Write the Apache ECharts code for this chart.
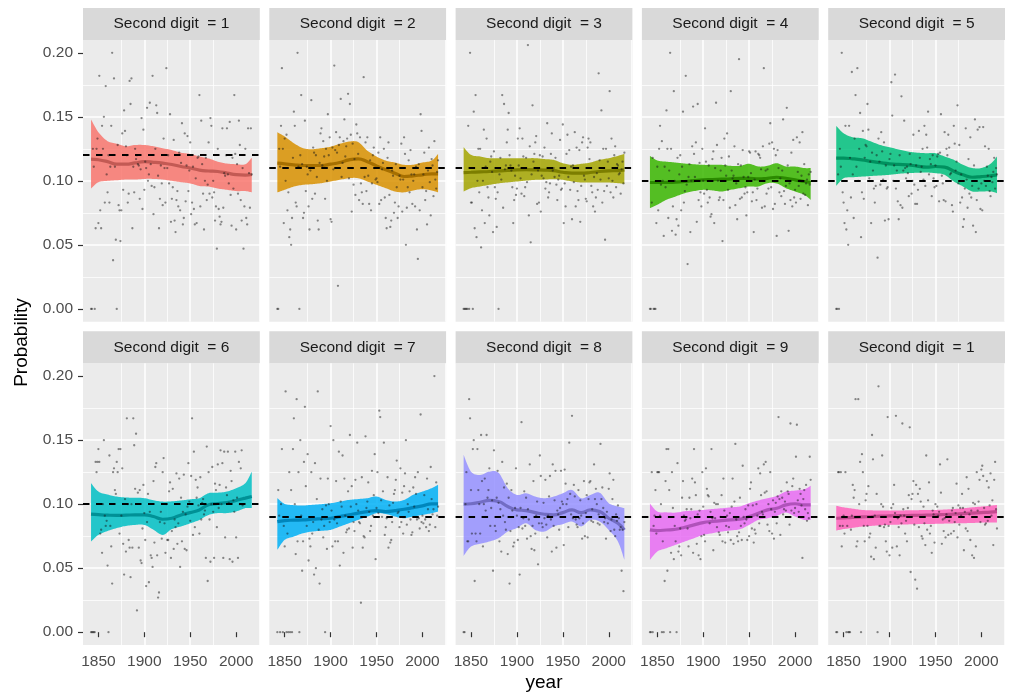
<!DOCTYPE html>
<html>
<head>
<meta charset="utf-8">
<script src="https://cdn.jsdelivr.net/npm/echarts@6/dist/echarts.min.js"></script>
<style>
html,body{margin:0;padding:0;background:#fff;}
#chart{width:1011px;height:696px;}
</style>
</head>
<body>
<div id="chart"></div>
<script>
// ---------------- DATA ----------------
const firstYear = 1842;                       // scatter: one value per year, 1842..2017
const stripLabels = ['Second digit  = 1','Second digit  = 2','Second digit  = 3','Second digit  = 4','Second digit  = 5',
                     'Second digit  = 6','Second digit  = 7','Second digit  = 8','Second digit  = 9','Second digit  = 1'];
const benford = [0.1197,0.1139,0.1088,0.1043,0.1003,0.0967,0.0934,0.0904,0.0876,0.0850];
const xTicks = [1850,1900,1950,2000];
const yTicks = [0,0.05,0.10,0.15,0.20];
const smoothYears = [1842,1850,1860,1870,1880,1890,1900,1910,1920,1930,1940,1950,1960,1970,1980,1990,2000,2010,2017];

const p1 = [0,0,0.125,0.111,0,0.063,0.125,0.133,0.067,0.182,
0.077,0.063,0.143,0.125,0.150,0.083,0.174,0.105,0.091,0.120,
0.083,0.111,0.143,0.200,0.038,0.180,0.111,0.054,0,0.128,
0.081,0.077,0.053,0.077,0.137,0.093,0.155,0.139,0.127,0.120,
0.083,0.090,0.178,0.160,0.180,0.063,0.111,0.091,0.125,0.117,
0.120,0.113,0.112,0.086,0.109,0.149,0.078,0.140,0.093,0.115,
0.110,0.157,0.100,0.105,0.161,0.113,0.096,0.182,0.074,0.095,
0.125,0.159,0.153,0.104,0.063,0.086,0.112,0.098,0.081,0.133,
0.110,0.083,0.188,0.110,0.120,0.098,0.152,0.068,0.086,0.095,
0.132,0.069,0.060,0.085,0.092,0.080,0.122,0.077,0.114,0.145,
0.066,0.071,0.137,0.084,0.112,0.135,0.092,0.108,0.130,0.074,
0.083,0.111,0.078,0.066,0.102,0.067,0.118,0.119,0.167,0.080,
0.147,0.113,0.090,0.062,0.100,0.118,0.085,0.097,0.130,0.090,
0.149,0.143,0.087,0.100,0.091,0.069,0.080,0.047,0.125,0.078,
0.072,0.066,0.068,0.141,0.079,0.106,0.104,0.120,0.141,0.105,
0.098,0.146,0.089,0.065,0.118,0.094,0.167,0.121,0.062,0.113,
0.090,0.147,0.128,0.085,0.069,0.110,0.047,0.080,0.125,0.071,
0.066,0.141,0.106,0.079,0.141,0.105];
const p2 = [0,0,0.125,0.111,0.143,0.188,0.125,0.067,0.133,0.100,
0.136,0.077,0.091,0.056,0.062,0.050,0.071,0.118,0.154,0.143,
0.083,0.080,0.200,0.111,0,0.120,0.167,0.113,0.071,0.075,
0.147,0.092,0.111,0.105,0.080,0.062,0.108,0.163,0.086,0.126,
0.122,0.090,0.120,0.103,0.069,0.062,0.114,0.137,0.141,0.112,
0.131,0.119,0.086,0.125,0.100,0.152,0.120,0.134,0.070,0.068,
0.126,0.109,0.190,0.124,0.138,0.122,0.018,0.128,0.134,0.164,
0.103,0.114,0.131,0.148,0.119,0.127,0.133,0.168,0.102,0.160,
0.136,0.076,0.129,0.097,0.117,0.089,0.144,0.137,0.121,0.085,
0.134,0.098,0.091,0.082,0.181,0.103,0.130,0.092,0.134,0.104,
0.082,0.116,0.077,0.098,0.120,0.126,0.110,0.101,0.102,0.099,
0.122,0.082,0.134,0.085,0.109,0.114,0.125,0.087,0.071,0.063,
0.118,0.130,0.089,0.064,0.069,0.108,0.104,0.075,0.083,0.113,
0.095,0.071,0.080,0.104,0.101,0.129,0.076,0.101,0.134,0.121,
0.050,0.079,0.095,0.116,0.091,0.124,0.105,0.082,0.100,0.105,
0.080,0.111,0.062,0.039,0.113,0.077,0.152,0.139,0.095,0.105,
0.122,0.085,0.092,0.066,0.108,0.126,0.099,0.073,0.117,0.112,
0.088,0.131,0.101,0.094,0.107,0.116];
const p3 = [0,0,0,0,0,0.143,0,0.200,0.083,0.083,
0,0.154,0.063,0.167,0.056,0.100,0.125,0.091,0.125,0.048,
0.077,0.100,0.140,0.067,0.111,0.133,0.095,0.087,0.073,0.115,
0.119,0.107,0.060,0.123,0.095,0.086,0.064,0.091,0,0.105,
0.118,0.101,0.167,0.079,0.160,0.109,0.112,0.130,0.140,0.153,
0.120,0.112,0.108,0.095,0.067,0.085,0.104,0.089,0.094,0.133,
0.112,0.141,0.102,0.090,0.133,0.119,0.088,0.095,0.118,0.099,
0.206,0.073,0.127,0.052,0.105,0.159,0.115,0.121,0.130,0.135,
0.082,0.108,0.083,0.120,0.076,0.104,0.119,0.102,0.126,0.094,
0.099,0.145,0.087,0.091,0.098,0.121,0.137,0.108,0.110,0.103,
0.118,0.097,0.085,0.101,0.104,0.132,0.093,0.094,0.144,0.067,
0.098,0.080,0.121,0.136,0.103,0.124,0.093,0.111,0.070,0.112,
0.099,0.138,0.080,0.126,0.092,0.085,0.124,0.068,0.096,0.130,
0.134,0.104,0.101,0.086,0.084,0.126,0.133,0.117,0.130,0.096,
0.091,0.080,0.103,0.076,0.087,0.106,0.093,0.184,0.116,0.101,
0.155,0.083,0.125,0.092,0.054,0.125,0.096,0.115,0.102,0.170,
0.091,0.133,0.100,0.087,0.120,0.127,0.095,0.113,0.112,0.105,
0.106,0.090,0.109,0.115,0.098,0.122];
const p4 = [0,0,0.083,0.118,0,0,0,0.067,0.111,0.077,
0.125,0.143,0.097,0.131,0.100,0.057,0.111,0.095,0.155,0.125,
0.071,0.108,0.200,0.125,0.061,0.080,0.170,0.100,0.058,0.070,
0.118,0.065,0.105,0.120,0.077,0.111,0.154,0.083,0.092,0.182,
0.097,0.035,0.103,0.113,0.060,0.100,0.127,0.158,0.121,0.103,
0.130,0.068,0.160,0.085,0.114,0.091,0.080,0.125,0.100,0.090,
0.141,0.115,0.093,0.083,0.112,0.087,0.072,0.074,0.117,0.123,
0.067,0.110,0.161,0.128,0.100,0.085,0.087,0.108,0.118,0.053,
0.085,0.133,0.112,0.104,0.137,0.093,0.119,0.079,0.170,0.108,
0.102,0.104,0.127,0.081,0.098,0.070,0.113,0.195,0.086,0.112,
0.087,0.124,0.103,0.090,0.095,0.073,0.091,0.103,0.123,0.122,
0.106,0.084,0.091,0.060,0.101,0.123,0.085,0.094,0.121,0.120,
0.118,0.109,0.079,0.127,0.188,0.080,0.108,0.090,0.109,0.094,
0.129,0.145,0.095,0.130,0.078,0.125,0.082,0.120,0.057,0.124,
0.110,0.091,0.102,0.088,0.108,0.148,0.092,0.082,0.096,0.157,
0.112,0.061,0.098,0.085,0.122,0.080,0.132,0.087,0.093,0.083,
0.134,0.107,0.096,0.130,0.086,0.104,0.138,0.090,0.113,0.089,
0.098,0.101,0.081,0.105,0.097,0.107];
const p5 = [0,0,0.105,0,0.125,0.111,0.200,0.091,0.083,0.067,
0.143,0.062,0.077,0.050,0.143,0.118,0.087,0.185,0.105,0.071,
0.133,0.167,0.111,0.188,0.100,0.125,0.153,0.056,0.091,0.139,
0.086,0.118,0.128,0.127,0.160,0.140,0.102,0.115,0.067,0.122,
0.108,0.094,0.083,0.096,0.120,0.040,0.133,0.115,0.097,0.138,
0.123,0.101,0.130,0.069,0.112,0.094,0.095,0.070,0.117,0.121,
0.177,0.151,0.100,0.112,0.183,0.094,0.108,0.084,0.070,0.120,
0.081,0.166,0.079,0.108,0.147,0.110,0.102,0.111,0.106,0.088,
0.121,0.113,0.090,0.100,0.136,0.097,0.082,0.112,0.082,0.093,
0.139,0.118,0.107,0.111,0.125,0.101,0.143,0.096,0.136,0.126,
0.154,0.105,0.117,0.113,0.088,0.120,0.102,0.095,0.112,0.096,
0.119,0.121,0.084,0.122,0.152,0.104,0.098,0.085,0.138,0.084,
0.125,0.120,0.136,0.126,0.105,0.106,0.081,0.076,0.143,0.129,
0.108,0.115,0.159,0.098,0.128,0.083,0.105,0.087,0.064,0.070,
0.094,0.141,0.101,0.079,0.117,0.090,0.134,0.087,0.096,0.065,
0.112,0.148,0.060,0.085,0.140,0.094,0.142,0.078,0.098,0.077,
0.142,0.100,0.127,0.096,0.111,0.104,0.125,0.092,0.088,0.103,
0.099,0.107,0.118,0.094,0.110,0.105];
const p6 = [0,0,0,0,0,0.133,0.125,0.133,0.143,0.133,
0.077,0.080,0.062,0.100,0.150,0.091,0.083,0.087,0.052,0,
0.138,0.083,0.067,0.038,0.125,0.128,0.111,0.108,0.133,0.125,
0.143,0.077,0.143,0.091,0.128,0.069,0.045,0.104,0.063,0.167,
0.100,0.072,0.066,0.043,0.100,0.066,0.167,0.146,0.112,0.155,
0.017,0.109,0.066,0.111,0.056,0.054,0.081,0.115,0.093,0.072,
0.036,0.086,0.108,0.039,0.094,0.060,0.058,0.051,0.118,0.070,
0.129,0.132,0.060,0.027,0.031,0.086,0.094,0.073,0.125,0.136,
0.085,0.062,0.100,0.072,0.072,0.110,0.117,0.058,0.079,0.112,
0.065,0.088,0.082,0.124,0.069,0.085,0.120,0.051,0.105,0.071,
0.094,0.123,0.065,0.092,0.064,0.098,0.132,0.102,0.087,0.122,
0.167,0.076,0.141,0.082,0.119,0.105,0.113,0.099,0.077,0.121,
0.088,0.101,0.104,0.092,0.095,0.058,0.145,0.040,0.125,0.088,
0.055,0.100,0.129,0.094,0.058,0.116,0.111,0.082,0.131,0.097,
0.115,0.142,0.100,0.132,0.058,0.141,0.074,0.113,0.107,0.141,
0.101,0.057,0.126,0.118,0.055,0.103,0.094,0.141,0.074,0.105,
0.058,0.133,0.100,0.128,0.142,0.099];
const p7 = [0,0.111,0.091,0,0.100,0.143,0,0.083,0.067,0.188,
0,0.077,0,0.125,0,0.111,0,0.143,0.167,0.100,
0.061,0.182,0.071,0.125,0,0.150,0.091,0.048,0.071,0.133,
0.176,0.114,0.083,0.139,0.056,0.073,0.067,0.125,0.077,0.086,
0.045,0.132,0.050,0.104,0.188,0.080,0.038,0.120,0.088,0.096,
0.074,0.083,0,0.099,0.065,0.120,0.100,0.086,0.161,0.095,
0.067,0.150,0.088,0.071,0.118,0.085,0.071,0.141,0.052,0.102,
0.098,0.138,0.062,0.120,0.091,0.078,0.080,0.110,0.081,0.154,
0.098,0.114,0.066,0.086,0.079,0.119,0.100,0.148,0.095,0.086,
0.085,0.023,0.121,0.066,0.075,0.074,0.153,0.097,0.102,0.117,
0.094,0.079,0.083,0.126,0.091,0.107,0.139,0.057,0.097,0.125,
0.093,0.173,0.168,0.103,0.090,0.110,0.148,0.076,0.082,0.089,
0.121,0.066,0.099,0.070,0.072,0.086,0.101,0.108,0.111,0.119,
0.134,0.093,0.094,0.082,0.128,0.086,0.109,0.077,0.114,0.124,
0.150,0.084,0.100,0.094,0.110,0.088,0.076,0.078,0.113,0.098,
0.121,0.108,0.088,0.125,0.089,0.081,0.170,0.086,0.091,0.085,
0.107,0.088,0.082,0.120,0.096,0.079,0.084,0.129,0.104,0.092,
0.096,0.200,0.082,0.117,0.091,0.098];
const p8 = [0,0,0.100,0.125,0.071,0.071,0.182,0.167,0.111,0.077,
0.143,0.150,0.040,0.077,0.071,0.143,0.111,0.100,0.077,0.154,
0.118,0.067,0.100,0.120,0.095,0.154,0.105,0.111,0.128,0.083,
0.097,0.103,0.048,0.142,0.083,0.079,0.105,0.126,0.101,0.071,
0.096,0.063,0.133,0.091,0.113,0.086,0.080,0.116,0.061,0.105,
0.038,0.079,0.111,0.095,0.067,0.070,0.097,0.128,0.091,0.072,
0.082,0.045,0.097,0.164,0.081,0.089,0.110,0.083,0.105,0.073,
0.096,0.088,0.131,0.075,0.065,0.083,0.118,0.064,0.077,0.091,
0.102,0.053,0.085,0.138,0.122,0.085,0.082,0.101,0.089,0.119,
0.084,0.074,0.091,0.106,0.122,0.088,0.063,0.131,0.083,0.103,
0.126,0.066,0.095,0.092,0.080,0.097,0.126,0.102,0.100,0.068,
0.127,0.116,0.100,0.104,0.082,0.148,0.108,0.092,0.169,0.089,
0.115,0.106,0.088,0.084,0.082,0.111,0.089,0.103,0.091,0.073,
0.085,0.118,0.075,0.093,0.107,0.074,0.104,0.117,0.118,0.087,
0.096,0.086,0.131,0.104,0.112,0.100,0.085,0.092,0.084,0.147,
0.104,0.113,0.097,0.086,0.089,0.073,0.094,0.085,0.112,0.124,
0.079,0.088,0.104,0.119,0.080,0.075,0.092,0.087,0.099,0.089,
0.080,0.082,0.048,0.080,0.032,0.086];
const p9 = [0,0,0.125,0,0.083,0.091,0.111,0.077,0.125,0.125,
0.125,0.091,0.100,0,0.071,0,0.040,0.118,0.143,0.048,
0.143,0.111,0,0.062,0.125,0.097,0.057,0.083,0.071,0,
0.132,0.063,0.067,0.081,0.060,0.105,0.118,0.091,0.087,0.088,
0.096,0.081,0.067,0.105,0.089,0.096,0.120,0.062,0.143,0.117,
0.107,0.069,0.092,0.060,0.095,0.057,0.075,0.125,0.098,0.076,
0.071,0.128,0.112,0.107,0.106,0.085,0.094,0.143,0.089,0.064,
0.101,0.089,0.100,0.082,0.100,0.078,0.076,0.090,0.107,0.071,
0.120,0.095,0.070,0.083,0.091,0.078,0.082,0.093,0.072,0.098,
0.120,0.069,0.102,0.147,0.088,0.075,0.071,0.078,0.105,0.083,
0.072,0.130,0.090,0.085,0.096,0.088,0.072,0.099,0.075,0.112,
0.117,0.081,0.099,0.070,0.080,0.077,0.100,0.091,0.128,0.085,
0.124,0.107,0.094,0.092,0.131,0.109,0.133,0.110,0.084,0.100,
0.079,0.125,0.096,0.077,0.103,0.073,0.094,0.101,0.085,0.106,
0.168,0.104,0.076,0.110,0.105,0.092,0.096,0.102,0.095,0.117,
0.110,0.108,0.084,0.163,0.095,0.114,0.120,0.093,0.097,0.137,
0.162,0.103,0.094,0.112,0.108,0.099,0.058,0.104,0.111,0.096,
0.115,0.087,0.093,0.089,0.137,0.119];
const p10 = [0,0,0.125,0.125,0.083,0.125,0.067,0.083,0.091,0.077,
0.125,0,0.083,0,0,0,0.080,0.091,0.115,0.105,
0.111,0.182,0.067,0.071,0.182,0.100,0.133,0,0.139,0.125,
0.083,0.071,0.103,0.108,0.083,0.114,0.074,0.077,0.059,0.154,
0.135,0.057,0.091,0.066,0.108,0,0.192,0.083,0.083,0.100,
0.138,0.098,0.082,0.084,0.071,0.063,0.168,0.083,0.060,0.086,
0.097,0.066,0.100,0.115,0.093,0.169,0.067,0.089,0.082,0.060,
0.091,0.085,0.163,0.096,0.091,0.077,0.087,0.071,0.097,0.107,
0.160,0.047,0.104,0.108,0.118,0.084,0.041,0.115,0.034,0.108,
0.082,0.112,0.102,0.075,0.073,0.098,0.085,0.068,0.138,0.080,
0.103,0.117,0.077,0.083,0.062,0.095,0.092,0.070,0.100,0.090,
0.098,0.091,0.094,0.131,0.109,0.069,0.088,0.079,0.089,0.074,
0.092,0.135,0.076,0.087,0.090,0.077,0.095,0.097,0.079,0.086,
0.093,0.116,0.074,0.099,0.084,0.097,0.091,0.108,0.097,0.064,
0.094,0.081,0.121,0.079,0.112,0.092,0.072,0.095,0.060,0.101,
0.058,0.100,0.067,0.125,0.095,0.102,0.119,0.086,0.127,0.130,
0.122,0.097,0.084,0.085,0.118,0.087,0.113,0.099,0.124,0.091,
0.103,0.068,0.119,0.133,0.096,0.081];

// smooth fit (fit) with confidence band (lo / hi) at smoothYears
const fit1 = [0.117,0.1165,0.115,0.113,0.113,0.114,0.115,0.1145,0.1138,0.1128,0.1112,0.110,0.1084,0.1077,0.1073,0.1061,0.1048,0.1045,0.105];
const lo1  = [0.094,0.099,0.100,0.1005,0.101,0.101,0.1015,0.1015,0.101,0.100,0.099,0.098,0.096,0.0955,0.094,0.093,0.092,0.092,0.091];
const hi1  = [0.148,0.138,0.131,0.129,0.127,0.128,0.128,0.127,0.1255,0.124,0.122,0.121,0.119,0.1175,0.115,0.1135,0.113,0.113,0.118];
const fit2 = [0.1138,0.1133,0.1125,0.112,0.112,0.112,0.113,0.1143,0.1164,0.1172,0.115,0.1117,0.1086,0.106,0.1034,0.1039,0.1047,0.1055,0.1055];
const lo2  = [0.091,0.093,0.0955,0.0969,0.0974,0.0982,0.0995,0.1008,0.1021,0.1021,0.0995,0.0969,0.0943,0.0917,0.091,0.0925,0.0935,0.0925,0.091];
const hi2  = [0.138,0.1346,0.1294,0.1255,0.1247,0.1255,0.1267,0.1289,0.1307,0.1303,0.1236,0.119,0.1158,0.1143,0.1125,0.1126,0.1143,0.1158,0.121];
const fit3 = [0.1065,0.1067,0.107,0.1073,0.1078,0.1082,0.1086,0.1087,0.1086,0.1084,0.108,0.1067,0.106,0.106,0.1065,0.1073,0.1078,0.108,0.1086];
const lo3  = [0.0917,0.0943,0.0956,0.0969,0.098,0.0988,0.0995,0.1002,0.1008,0.101,0.1013,0.1008,0.0995,0.0987,0.0987,0.0987,0.0987,0.0982,0.0976];
const hi3  = [0.1263,0.1203,0.119,0.1177,0.1177,0.1177,0.1177,0.1177,0.1177,0.117,0.1164,0.1138,0.1125,0.1133,0.1143,0.1164,0.1177,0.1195,0.1211];
const fit4 = [0.0987,0.0987,0.0988,0.099,0.0995,0.1002,0.1008,0.101,0.1013,0.1016,0.102,0.102,0.1015,0.102,0.1028,0.102,0.1008,0.0995,0.0987];
const lo4  = [0.0787,0.0813,0.0852,0.0878,0.0904,0.092,0.093,0.0925,0.0917,0.093,0.0943,0.0956,0.0956,0.0982,0.098,0.0943,0.0917,0.0891,0.0852];
const hi4  = [0.1195,0.1159,0.115,0.1143,0.1135,0.113,0.1125,0.1125,0.1125,0.1117,0.1117,0.1133,0.1112,0.1117,0.1138,0.1112,0.1112,0.11,0.11];
const fit5 = [0.1177,0.1177,0.1172,0.1164,0.1152,0.1142,0.1133,0.1128,0.1125,0.1115,0.1107,0.1112,0.1107,0.1075,0.1047,0.1028,0.1033,0.104,0.1047];
const lo5  = [0.0961,0.102,0.1028,0.1033,0.1038,0.1042,0.1047,0.1055,0.106,0.1063,0.1065,0.106,0.1047,0.0995,0.0956,0.0917,0.0917,0.0917,0.0904];
const hi5  = [0.1429,0.1372,0.134,0.1333,0.1307,0.128,0.1263,0.1245,0.1229,0.122,0.1216,0.1216,0.119,0.1164,0.1125,0.11,0.11,0.1133,0.119];
const fit6 = [0.0922,0.0918,0.0914,0.0912,0.0914,0.0916,0.0916,0.0904,0.0882,0.089,0.0916,0.0934,0.0955,0.0995,0.1005,0.1012,0.1029,0.1047,0.106];
const lo6  = [0.0708,0.076,0.079,0.0813,0.083,0.0838,0.0838,0.080,0.076,0.0805,0.0826,0.085,0.0877,0.0916,0.093,0.093,0.0943,0.0969,0.0969];
const hi6  = [0.1164,0.1098,0.1075,0.1059,0.1052,0.105,0.1047,0.103,0.102,0.1022,0.1029,0.1038,0.1047,0.1086,0.109,0.1098,0.1125,0.1164,0.1254];
const fit7 = [0.0864,0.0872,0.0875,0.0877,0.0882,0.0886,0.089,0.0903,0.0916,0.093,0.0942,0.095,0.0942,0.095,0.096,0.0973,0.0986,0.1002,0.1002];
const lo7  = [0.0643,0.0721,0.0747,0.0773,0.0786,0.0792,0.0799,0.0825,0.0851,0.0877,0.0903,0.0929,0.0924,0.0903,0.089,0.0903,0.0916,0.0929,0.0942];
const hi7  = [0.1047,0.1002,0.0992,0.0989,0.0995,0.1,0.1007,0.102,0.1033,0.104,0.1047,0.106,0.1033,0.102,0.1033,0.1073,0.1098,0.1125,0.1151];
const fit8 = [0.1000,0.1003,0.1015,0.1029,0.1021,0.0982,0.0955,0.095,0.0934,0.0921,0.0916,0.0934,0.0955,0.0934,0.0955,0.0942,0.089,0.0851,0.0799];
const lo8  = [0.0596,0.0669,0.069,0.0708,0.0734,0.0786,0.0813,0.0851,0.0799,0.0786,0.0826,0.0844,0.0864,0.0826,0.0877,0.0864,0.0799,0.0708,0.0565];
const hi8  = [0.1385,0.1254,0.1228,0.1254,0.1245,0.1125,0.1072,0.1085,0.1059,0.1046,0.1059,0.1085,0.1111,0.1046,0.1072,0.109,0.1008,0.0982,0.0968];
const fit9 = [0.0799,0.0794,0.0798,0.0804,0.082,0.0838,0.0856,0.0865,0.0872,0.0877,0.0882,0.0903,0.0929,0.0955,0.0968,0.0994,0.1003,0.0994,0.0994];
const lo9  = [0.0565,0.063,0.0656,0.0682,0.0708,0.0734,0.076,0.0773,0.0786,0.0795,0.0804,0.0838,0.0877,0.089,0.0908,0.0934,0.0903,0.0877,0.0877];
const hi9  = [0.1005,0.0942,0.0936,0.0934,0.0945,0.095,0.0955,0.0962,0.0968,0.0975,0.0982,0.1008,0.1029,0.1046,0.1064,0.1098,0.1106,0.1116,0.1143];
const fit10 = [0.089,0.0893,0.0897,0.09,0.0903,0.0906,0.0908,0.091,0.0911,0.0913,0.0914,0.0916,0.0919,0.0922,0.0926,0.093,0.0934,0.0938,0.0942];
const lo10  = [0.0794,0.0805,0.0815,0.0825,0.083,0.0835,0.0838,0.084,0.0842,0.0844,0.0845,0.0846,0.0848,0.085,0.0851,0.0853,0.0856,0.0856,0.0856];
const hi10  = [0.0987,0.0975,0.0965,0.0955,0.0952,0.095,0.095,0.095,0.0952,0.0953,0.0955,0.0955,0.0958,0.0962,0.0968,0.0975,0.0981,0.0988,0.0994];

// ---------------- STYLE ----------------
const fillColors = ['rgba(248,118,109,0.85)','rgba(216,144,0,0.85)','rgba(163,165,0,0.85)','rgba(57,182,0,0.85)','rgba(0,191,125,0.85)',
                    'rgba(0,191,196,0.85)','rgba(0,176,246,0.85)','rgba(149,144,255,0.85)','rgba(231,107,243,0.85)','rgba(255,98,188,0.85)'];
const lineColors = ['#C35A54','#A66F00','#7C7E00','#2B8A00','#00915F','#009196','#0086BC','#726DC4','#B052BA','#C44B90'];

const points = [p1,p2,p3,p4,p5,p6,p7,p8,p9,p10];
const fits = [fit1,fit2,fit3,fit4,fit5,fit6,fit7,fit8,fit9,fit10];
const los = [lo1,lo2,lo3,lo4,lo5,lo6,lo7,lo8,lo9,lo10];
const his = [hi1,hi2,hi3,hi4,hi5,hi6,hi7,hi8,hi9,hi10];

const FONT = '"Liberation Sans", Arial, Helvetica, sans-serif';
const PANEL_LEFT = 83, PANEL_STEP = 186.3, PANEL_W = 176.8, PANEL_H = 281.7;
const PLOT_TOP = [40, 363.3], STRIP_H = 32;

// Catmull-Rom resampling of pixel points (for a smooth ribbon outline)
function smoothPixels(pts, steps) {
  const out = [];
  for (let i = 0; i < pts.length - 1; i++) {
    const p0 = pts[Math.max(i - 1, 0)], p1 = pts[i], p2 = pts[i + 1], p3 = pts[Math.min(i + 2, pts.length - 1)];
    for (let s = 0; s < steps; s++) {
      const t = s / steps, t2 = t * t, t3 = t2 * t;
      const f = (a, b, c, d) => 0.5 * ((2 * b) + (-a + c) * t + (2 * a - 5 * b + 4 * c - d) * t2 + (-a + 3 * b - 3 * c + d) * t3);
      out.push([f(p0[0], p1[0], p2[0], p3[0]), f(p0[1], p1[1], p2[1], p3[1])]);
    }
  }
  out.push(pts[pts.length - 1]);
  return out;
}

const grids = [], xAxes = [], yAxes = [], series = [], graphics = [];
for (let k = 0; k < 10; k++) {
  const r = Math.floor(k / 5), c = k % 5;
  const left = PANEL_LEFT + c * PANEL_STEP, top = PLOT_TOP[r];
  grids.push({left: left, top: top, width: PANEL_W, height: PANEL_H, show: true,
              backgroundColor: '#EBEBEB', borderWidth: 0, containLabel: false, outerBoundsMode: 'none'});
  xAxes.push({
    gridIndex: k, type: 'value', min: 1833.25, max: 2025.75, minInterval: 50, maxInterval: 50,
    axisLine: {show: false},
    axisTick: {show: r === 1, length: 5, customValues: xTicks, lineStyle: {color: '#333333', width: 1.2}},
    axisLabel: {show: r === 1, customValues: xTicks, margin: 9, color: '#4D4D4D', fontSize: 15.5, fontFamily: FONT,
                formatter: v => String(v)},
    splitLine: {show: true, showMinLine: false, showMaxLine: false, lineStyle: {color: '#FFFFFF', width: 1.5}},
    minorTick: {show: false, splitNumber: 2},
    minorSplitLine: {show: true, lineStyle: {color: '#FFFFFF', width: 0.75}}
  });
  yAxes.push({
    gridIndex: k, type: 'value', min: -0.01, max: 0.21, minInterval: 0.05, maxInterval: 0.05,
    axisLine: {show: false},
    axisTick: {show: c === 0, length: 5, customValues: yTicks, lineStyle: {color: '#333333', width: 1.2}},
    axisLabel: {show: c === 0, customValues: yTicks, margin: 10, color: '#4D4D4D', fontSize: 15.5, fontFamily: FONT,
                formatter: v => v.toFixed(2)},
    splitLine: {show: true, showMinLine: false, showMaxLine: false, lineStyle: {color: '#FFFFFF', width: 1.5}},
    minorTick: {show: false, splitNumber: 2},
    minorSplitLine: {show: true, lineStyle: {color: '#FFFFFF', width: 0.75}}
  });
  const lo = los[k], hi = his[k], fit = fits[k];
  const bandData = smoothYears.map((y, j) => [y, lo[j], hi[j]]);
  const fill = fillColors[k];
  series.push({
    type: 'custom', xAxisIndex: k, yAxisIndex: k, silent: true, clip: true, z: 2,
    data: bandData, encode: {x: 0, y: [1, 2]},
    renderItem: function (params, api) {
      if (params.dataIndex !== 0) return null;
      const upper = smoothPixels(bandData.map(d => api.coord([d[0], d[2]])), 8);
      const lower = smoothPixels(bandData.map(d => api.coord([d[0], d[1]])), 8).reverse();
      return {type: 'polygon', shape: {points: upper.concat(lower)}, style: {fill: fill, stroke: null}};
    }
  });
  series.push({
    type: 'line', xAxisIndex: k, yAxisIndex: k, smooth: true, symbol: 'none', silent: true, z: 3,
    lineStyle: {color: lineColors[k], width: 3.2}, data: smoothYears.map((y, j) => [y, fit[j]])
  });
  series.push({
    type: 'scatter', xAxisIndex: k, yAxisIndex: k, symbolSize: 2.3, silent: true, z: 4,
    itemStyle: {color: 'rgba(25,25,25,0.62)'},
    data: points[k].map((v, i) => [firstYear + i, v]),
    markLine: {silent: true, symbol: ['none', 'none'], label: {show: false}, animation: false, z: 6,
               lineStyle: {color: '#000000', type: [6.5, 6.5], width: 1.8},
               emphasis: {disabled: true}, data: [{yAxis: benford[k]}]}
  });
  graphics.push({type: 'rect', shape: {x: left, y: top - STRIP_H, width: PANEL_W, height: STRIP_H},
                 style: {fill: '#D9D9D9'}, silent: true});
  graphics.push({type: 'text', x: left + PANEL_W / 2, y: top - STRIP_H / 2, silent: true,
                 style: {text: stripLabels[k], textAlign: 'center', textVerticalAlign: 'middle',
                         fill: '#1A1A1A', fontSize: 15.5, fontFamily: FONT}});
}
graphics.push({type: 'text', x: 22, y: 342.5, rotation: Math.PI / 2, silent: true,
               style: {text: 'Probability', textAlign: 'center', textVerticalAlign: 'middle',
                       fill: '#000000', fontSize: 19, fontFamily: FONT}});
graphics.push({type: 'text', x: 544, y: 683, silent: true,
               style: {text: 'year', textAlign: 'center', textVerticalAlign: 'middle',
                       fill: '#000000', fontSize: 19, fontFamily: FONT}});

const chart = echarts.init(document.getElementById('chart'), null, {renderer: 'canvas'});
chart.setOption({
  animation: false,
  backgroundColor: '#FFFFFF',
  grid: grids, xAxis: xAxes, yAxis: yAxes, series: series, graphic: graphics
});
</script>
</body>
</html>
